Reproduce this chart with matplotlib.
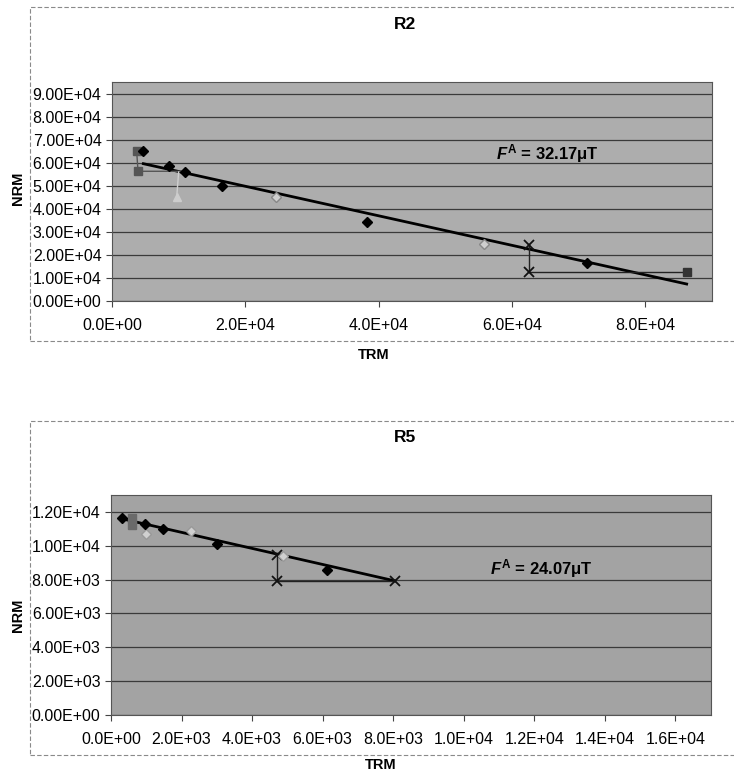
import matplotlib.pyplot as plt
from matplotlib.patches import Rectangle
from matplotlib.ticker import FuncFormatter

plt.rcParams['font.family'] = ['Liberation Sans', 'DejaVu Sans']
plt.rcParams['mathtext.fontset'] = 'custom'
plt.rcParams['mathtext.it'] = 'Liberation Sans:italic:bold'
plt.rcParams['mathtext.rm'] = 'Liberation Sans:bold'

# R2 data
r2_trm = [4.7e3, 8.6e3, 10.9e3, 16.5e3, 38.3e3, 71.3e3]
r2_nrm = [6.5e4, 5.85e4, 5.6e4, 5.0e4, 3.43e4, 1.66e4]
r2_light_trm = [24.6e3, 55.8e3]
r2_light_nrm = [4.5e4, 2.47e4]
r2_chk1_trm = [3.7e3, 3.9e3, 10.9e3]
r2_chk1_nrm = [6.5e4, 5.63e4, 5.63e4]
r2_chk2_trm = [62.5e3, 62.5e3, 86.2e3]
r2_chk2_nrm = [2.42e4, 1.24e4, 1.24e4]
r2_chk3_trm = [10.0e3, 9.7e3]
r2_chk3_nrm = [5.6e4, 4.5e4]
r2_fit_trm = [4.7e3, 86.2e3]
r2_fit_nrm = [5.96e4, 0.74e4]

# R5 data
r5_trm = [0.30e3, 0.97e3, 1.47e3, 3.0e3, 6.13e3]
r5_nrm = [11.64e3, 11.3e3, 10.97e3, 10.1e3, 8.59e3]
r5_sq_trm = [0.61e3, 0.61e3]
r5_sq_nrm = [11.65e3, 11.25e3]
r5_light_trm = [1.0e3, 2.26e3, 4.88e3]
r5_light_nrm = [10.7e3, 10.85e3, 9.38e3]
r5_chk_trm = [4.71e3, 4.71e3, 8.04e3]
r5_chk_nrm = [9.46e3, 7.93e3, 7.93e3]
r5_fit_trm = [0.3e3, 8.04e3]
r5_fit_nrm = [11.6e3, 7.93e3]

fig = plt.figure(figsize=(7.34, 7.72), dpi=100)

# chart area boxes
for y0 in [0.558, 0.022]:
    fig.patches.append(Rectangle((0.041, y0), 1.0, 0.4326, transform=fig.transFigure,
                                 fill=False, ec='#8a8a8a', lw=0.8, ls=(0, (4, 2))))

def style(ax, bg, xmax, xstep, ymax, ystep):
    ax.set_facecolor(bg)
    ax.set_xlim(0, xmax)
    ax.set_ylim(0, ymax)
    ax.set_xticks([i * xstep for i in range(int(xmax // xstep) + 1)])
    ax.set_yticks([i * ystep for i in range(int(ymax // ystep) + 1)])
    ax.xaxis.set_major_formatter(FuncFormatter(lambda v, p: '{:.1E}'.format(v)))
    ax.yaxis.set_major_formatter(FuncFormatter(lambda v, p: '{:.2E}'.format(v)))
    ax.grid(axis='y', color='#3a3a3a', lw=0.9)
    ax.set_axisbelow(True)
    ax.tick_params(labelsize=11.5, length=4, color='#444', direction='out')
    ax.tick_params(axis='x', pad=8)
    for s in ax.spines.values():
        s.set_color('#555')
        s.set_linewidth(0.8)

# ---- R2 ----
ax1 = fig.add_axes([0.1526, 0.610, 0.8174, 0.2837])
style(ax1, '#adadad', 9e4, 2e4, 9.5e4, 1e4)
ax1.plot(r2_fit_trm, r2_fit_nrm, color='black', lw=2, zorder=3)
ax1.plot(r2_chk1_trm, r2_chk1_nrm, color='#555555', lw=1, zorder=3)
ax1.plot(r2_chk1_trm[:2], r2_chk1_nrm[:2], 's', color='#555555', ms=6, zorder=4)
ax1.plot(r2_chk3_trm, r2_chk3_nrm, color='#cfcfcf', lw=1, zorder=3)
ax1.plot(r2_chk3_trm[1:], r2_chk3_nrm[1:], '^', color='#cdcdcd', ms=6, zorder=4)
ax1.plot(r2_chk2_trm, r2_chk2_nrm, color='#222222', lw=1, zorder=3)
ax1.plot(r2_chk2_trm[:2], r2_chk2_nrm[:2], 'x', color='#111111', ms=7, mew=1.3, zorder=4)
ax1.plot(r2_chk2_trm[2:], r2_chk2_nrm[2:], 's', color='#333333', ms=6, zorder=4)
ax1.plot(r2_light_trm, r2_light_nrm, 'D', color='#cfcfcf', mec='#888888', ms=5, zorder=4)
ax1.plot(r2_trm, r2_nrm, 'D', color='black', ms=5.5, zorder=5)
ax1.text(65.3e3, 6.4e4, r'$F^{\rm A}$ = 32.17μT', fontsize=12, fontweight='bold',
         ha='center', va='center')
fig.text(0.552, 0.968, 'R2', fontsize=12.5, fontweight='bold', ha='center', va='center')
fig.text(0.509, 1 - 355 / 772, 'TRM', fontsize=10.5, fontweight='bold', ha='center', va='center')
fig.text(0.024, 1 - 188 / 772, 'NRM', fontsize=10.5, fontweight='bold', ha='center',
         va='center', rotation=90)

# ---- R5 ----
ax2 = fig.add_axes([0.1512, 0.0738, 0.817, 0.285])
style(ax2, '#a3a3a3', 1.7e4, 2e3, 1.3e4, 2e3)
ax2.plot(r5_fit_trm, r5_fit_nrm, color='black', lw=2, zorder=3)
ax2.plot(r5_chk_trm, r5_chk_nrm, color='#222222', lw=1, zorder=3)
ax2.plot(r5_chk_trm, r5_chk_nrm, 'x', color='#111111', ms=7, mew=1.3, zorder=4)
ax2.plot(r5_sq_trm, r5_sq_nrm, color='#6a6a6a', lw=1, zorder=3)
ax2.plot(r5_sq_trm, r5_sq_nrm, 's', color='#6a6a6a', ms=6, zorder=4)
ax2.plot(r5_light_trm, r5_light_nrm, 'D', color='#d0d0d0', mec='#999999', ms=5, zorder=4)
ax2.plot(r5_trm, r5_nrm, 'D', color='black', ms=5.5, zorder=5)
ax2.text(12.19e3, 8.63e3, r'$F^{\rm A}$ = 24.07μT', fontsize=12, fontweight='bold',
         ha='center', va='center')
fig.text(0.552, 1 - 437 / 772, 'R5', fontsize=12.5, fontweight='bold', ha='center', va='center')
fig.text(0.519, 1 - 765 / 772, 'TRM', fontsize=10.5, fontweight='bold', ha='center', va='center')
fig.text(0.024, 1 - 615 / 772, 'NRM', fontsize=10.5, fontweight='bold', ha='center',
         va='center', rotation=90)

fig.savefig('out.png', dpi=100)
